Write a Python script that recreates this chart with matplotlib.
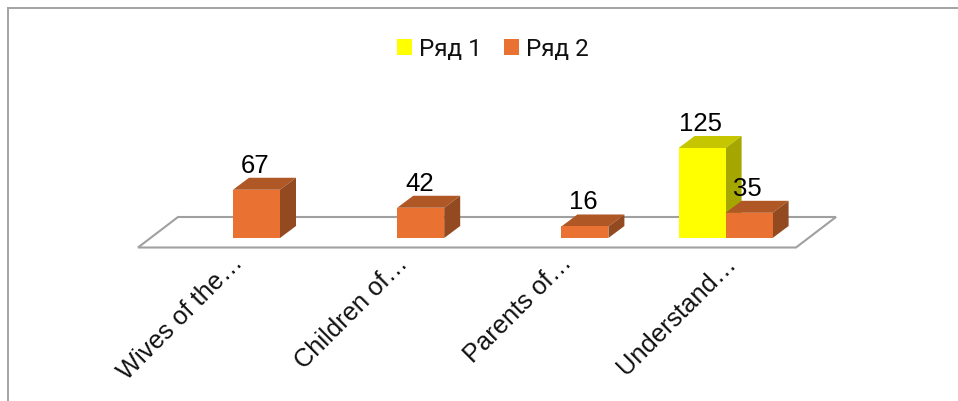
import matplotlib
matplotlib.use("Agg")
import matplotlib.pyplot as plt
from matplotlib.patches import Patch, Polygon
from matplotlib.lines import Line2D
from matplotlib.transforms import ScaledTranslation

categories = ["Wives of the…", "Children of…", "Parents of…", "Understand…"]
series_1 = [0, 0, 0, 125]
series_2 = [67, 42, 16, 35]
series_names = ["Ряд 1", "Ряд 2"]

W, H, DPI = 958, 402, 100
CAT_PX, UNIT_PX, ORIGIN_PX, BASE_PY = 164.2, 0.72, 233, 239
TOP_PY, LEFT_PX = 9, 8
BAR_W = 47 / CAT_PX
DX, DY = 16 / CAT_PX, 12 / UNIT_PX

COLORS = {
    0: ("#FFFF00", "#C6C600", "#A6A600"),
    1: ("#E97132", "#B05726", "#934A20"),
}

fig = plt.figure(figsize=(W / DPI, H / DPI), dpi=DPI, facecolor="white")
ax = fig.add_axes([LEFT_PX / W, (H - BASE_PY) / H, (W - LEFT_PX) / W, (BASE_PY - TOP_PY) / H])
ax.set_xlim((LEFT_PX - ORIGIN_PX) / CAT_PX, (W - ORIGIN_PX) / CAT_PX)
ax.set_ylim(0, (BASE_PY - TOP_PY) / UNIT_PX)
ax.set_facecolor("none")
for s in ax.spines.values():
    s.set_visible(False)
ax.set_yticks([])

# Frame lines (top and left of the chart area, running off the image)
frame = dict(color="#A3A3A3", lw=1.4, transform=fig.transFigure, clip_on=False)
fig.add_artist(Line2D([LEFT_PX / W, LEFT_PX / W], [0, (H - TOP_PY) / H], **frame))
fig.add_artist(Line2D([LEFT_PX / W, 1], [(H - TOP_PY) / H, (H - TOP_PY) / H], **frame))

# Floor
fl, fr = (138 - ORIGIN_PX) / CAT_PX, (796 - ORIGIN_PX) / CAT_PX
f_y = -9.5 / UNIT_PX
b_dx, b_y = 40 / CAT_PX, 21 / UNIT_PX
ax.add_patch(Polygon([(fl, f_y), (fr, f_y), (fr + b_dx, b_y), (fl + b_dx, b_y)], closed=True,
                     fc="white", ec="#A0A0A0", lw=1.5, clip_on=False, zorder=1, joinstyle="miter"))


def bar3d(left, value, idx, z):
    front, top, side = COLORS[idx]
    right = left + BAR_W
    ax.bar(left, value, width=BAR_W, align="edge", color=front, zorder=z + 0.2)
    ax.add_patch(Polygon([(left, value), (right, value), (right + DX, value + DY), (left + DX, value + DY)],
                         closed=True, fc=top, ec="none", zorder=z, clip_on=False))
    ax.add_patch(Polygon([(right, 0), (right + DX, DY), (right + DX, value + DY), (right, value)],
                         closed=True, fc=side, ec="none", zorder=z, clip_on=False))


label_font = dict(family="Liberation Sans", fontsize=18.5, color="black", ha="center", va="baseline", zorder=10)
lift = 18 / UNIT_PX
nudge = 1.5 / CAT_PX
for i, (a, b) in enumerate(zip(series_1, series_2)):
    if a > 0:
        bar3d(i - BAR_W, a, 0, 3)
    bar3d(i, b, 1, 4)
    if a > 0:
        ax.text(i - BAR_W / 2 - nudge, a + lift, str(a), **label_font)
    ax.text(i + BAR_W / 2 - nudge, b + lift, str(b), **label_font)

# Category axis labels
ax.set_xticks(range(len(categories)))
ax.set_xticklabels(categories, rotation=45, ha="right", va="top", rotation_mode="anchor",
                   family="Liberation Sans", fontsize=18.3, color="#111111")
ax.tick_params(axis="x", length=0, pad=0)
shift = ScaledTranslation(-2 / DPI, -12 / DPI, fig.dpi_scale_trans)
for t in ax.get_xticklabels():
    t.set_transform(t.get_transform() + shift)

handles = [Patch(fc=COLORS[0][0], ec="none"), Patch(fc=COLORS[1][0], ec="none")]
fig.legend(handles, series_names, loc="center", bbox_to_anchor=(493 / W, (H - 50) / H), ncol=2,
           frameon=False, prop={"family": "Roboto", "size": 17.5}, handlelength=0.62, handleheight=0.62,
           handletextpad=0.3, columnspacing=0.9, labelcolor="#111111", borderpad=0)

fig.savefig("out.png", dpi=DPI, facecolor="white")
